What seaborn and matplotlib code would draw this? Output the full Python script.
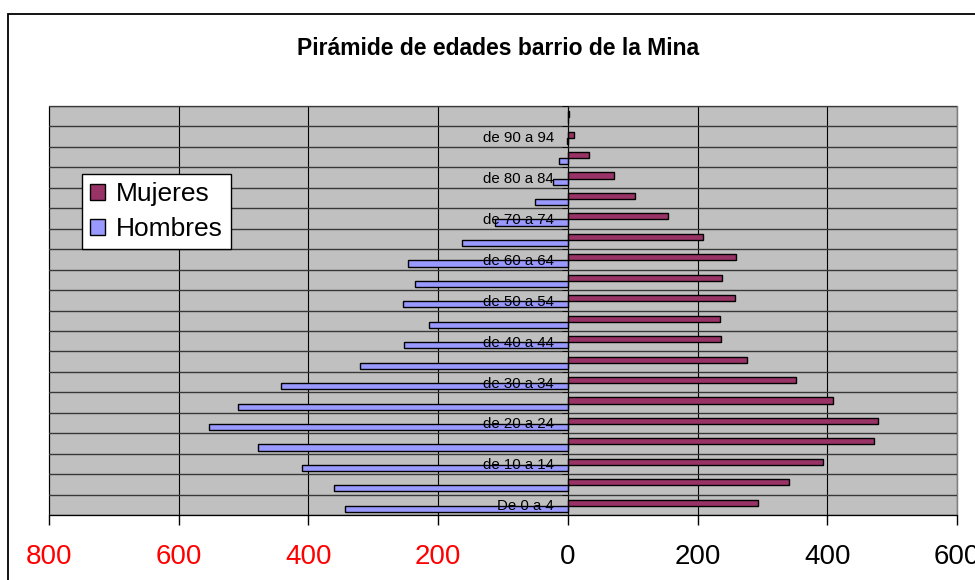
import numpy as np
import pandas as pd
import matplotlib
matplotlib.use("Agg")
import matplotlib.pyplot as plt
from matplotlib.patches import Rectangle
import seaborn as sns

# Grupos de edad (de abajo hacia arriba)
grupos = ["De 0 a 4", "de 5 a 9", "de 10 a 14", "de 15 a 19", "de 20 a 24",
          "de 25 a 29", "de 30 a 34", "de 35 a 39", "de 40 a 44", "de 45 a 49",
          "de 50 a 54", "de 55 a 59", "de 60 a 64", "de 65 a 69", "de 70 a 74",
          "de 75 a 79", "de 80 a 84", "de 85 a 89", "de 90 a 94", "de 95 a 99"]
mujeres = [293, 341, 394, 472, 478, 409, 352, 276, 236, 234,
           257, 238, 259, 209, 155, 103, 71, 33, 10, 1]
hombres = [343, 360, 410, 478, 553, 509, 442, 320, 252, 214,
           254, 235, 247, 163, 113, 50, 23, 13, 2, 0]
x_ticks = [-800, -600, -400, -200, 0, 200, 400, 600]

plt.rcParams["font.family"] = ["Liberation Sans", "DejaVu Sans"]

idx = np.arange(len(grupos))
df_m = pd.DataFrame({"valor": mujeres, "pos": idx + 0.1})
df_h = pd.DataFrame({"valor": -np.array(hombres), "pos": idx - 0.2})

fig = plt.figure(figsize=(9.75, 5.8), dpi=100)
ax = fig.add_axes([49 / 975, 1 - 515 / 580, 908 / 975, 409 / 580])
ax.set_facecolor("#C0C0C0")

sns.barplot(data=df_m, x="valor", y="pos", orient="y", native_scale=True,
            width=0.3, color="#993366", saturation=1, edgecolor="black",
            linewidth=1, errorbar=None, label="Mujeres", ax=ax)
sns.barplot(data=df_h, x="valor", y="pos", orient="y", native_scale=True,
            width=0.3, color="#9999FF", saturation=1, edgecolor="black",
            linewidth=1, errorbar=None, label="Hombres", ax=ax)

ax.set_xlim(-800, 600)
ax.set_ylim(-0.5, len(grupos) - 0.5)
ax.set_xlabel("")
ax.set_ylabel("")

# eje x
ax.set_xticks(x_ticks)
ax.set_xticklabels([str(abs(v)) for v in x_ticks], fontsize=20)
for lab, v in zip(ax.get_xticklabels(), x_ticks):
    lab.set_color("red" if v < 0 else "black")
ax.tick_params(axis="x", direction="out", length=7, width=1, pad=14)

# eje de categorias en el 0
ax.spines["left"].set_position(("data", 0))
ax.spines["left"].set_color("black")
ax.spines["bottom"].set_color("black")
ax.spines["top"].set_color("#808080")
ax.spines["right"].set_color("#808080")
ax.patch.set_edgecolor("#808080")
ax.patch.set_linewidth(1)

ax.set_yticks(idx[::2])
ax.set_yticklabels(grupos[::2], fontsize=10.8)
ax.set_yticks(np.arange(-0.5, len(grupos), 1), minor=True)
ax.tick_params(axis="y", which="major", length=0, pad=10)
ax.tick_params(axis="y", which="minor", length=4, direction="out", color="black")

ax.grid(which="minor", axis="y", color="#383838", linewidth=1)
ax.grid(which="major", axis="x", color="black", linewidth=0.8)
ax.grid(which="major", axis="y", visible=False)
ax.set_axisbelow(True)
ax.yaxis.set_zorder(3)

leg = ax.legend(loc="upper left", bbox_to_anchor=(0.036, 0.833), borderaxespad=0,
                fontsize=19, frameon=True, fancybox=False, framealpha=1,
                edgecolor="black", handlelength=0.6, handleheight=0.6,
                handletextpad=0.4, labelspacing=0.42, borderpad=0.3)
leg.get_frame().set_linewidth(1)

fig.text(498 / 975, 1 - 55 / 580, "Pirámide de edades barrio de la Mina",
         ha="center", va="baseline", fontsize=16.5, fontweight="bold")

fig.add_artist(Rectangle((8 / 975, -0.1), 1.2, 1.1 - 14 / 580,
                         transform=fig.transFigure, fill=False,
                         edgecolor="black", linewidth=1.3))

fig.savefig("out.png", dpi=100)
plt.close(fig)
